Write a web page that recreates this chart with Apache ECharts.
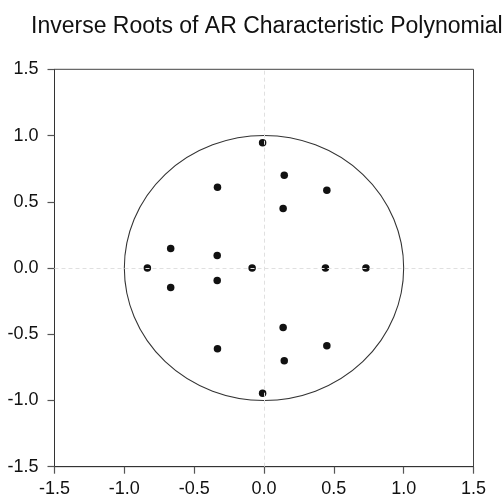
<!DOCTYPE html>
<html>
<head>
<meta charset="utf-8">
<script src="https://cdn.jsdelivr.net/npm/echarts@6/dist/echarts.min.js"></script>
<style>
  html, body { margin: 0; padding: 0; background: #fff; }
  #main { width: 503px; height: 500px; }
</style>
</head>
<body>
<div id="main"></div>
<script>
// inverse roots (real part, imaginary part)
var rootRe = [-0.01, 0.145, 0.45, -0.333, 0.137, -0.668, -0.335, -0.835, -0.085, 0.44, 0.73,
              -0.335, -0.668, 0.137, -0.333, 0.45, 0.145, -0.01];
var rootIm = [0.946, 0.70, 0.587, 0.61, 0.45, 0.147, 0.095, 0, 0, 0, 0,
              -0.095, -0.147, -0.45, -0.61, -0.587, -0.70, -0.946];
// unit circle: centre x, centre y, radius
var unitCircle = [[0, 0, 1]];

var points = rootRe.map(function (re, i) { return [re, rootIm[i]]; });

var chart = echarts.init(document.getElementById("main"));

var labelStyle = {
    color: "#111",
    fontSize: 18,
    fontFamily: "Liberation Sans, Arial, sans-serif",
    formatter: function (v) { return v.toFixed(1); }
};

function makeAxis(margin) {
    return {
        type: "value",
        min: -1.5,
        max: 1.5,
        interval: 0.5,
        axisLine: { show: true, onZero: false, lineStyle: { color: "#333", width: 1 } },
        axisTick: { show: true, inside: false, length: 7, lineStyle: { color: "#555", width: 1.2 } },
        axisLabel: Object.assign({ margin: margin }, labelStyle),
        splitLine: { show: false }
    };
}

var options = {
    animation: false,
    title: {
        text: "Inverse Roots of AR Characteristic Polynomial",
        left: 26,
        top: 10,
        textStyle: {
            fontSize: 23,
            fontWeight: "normal",
            color: "#111",
            fontFamily: "Liberation Sans, Arial, sans-serif"
        }
    },
    grid: {
        left: 54.5,
        right: 29.5,
        top: 69.3,
        bottom: 33.3,
        show: true,
        borderColor: "#444",
        borderWidth: 1
    },
    xAxis: makeAxis(13),
    yAxis: makeAxis(16),
    series: [
        {
            type: "custom",
            silent: true,
            data: unitCircle,
            renderItem: function (params, api) {
                var c = api.coord([api.value(0), api.value(1)]);
                var s = api.size([api.value(2), api.value(2)]);
                return {
                    type: "circle",
                    x: c[0],
                    y: c[1],
                    scaleX: s[0] / s[1],
                    shape: { cx: 0, cy: 0, r: s[1] },
                    style: { fill: "none", stroke: "#333", lineWidth: 1, strokeNoScale: true }
                };
            },
            markLine: {
                silent: true,
                symbol: "none",
                label: { show: false },
                lineStyle: { color: "#e0e0e0", type: [4, 3], width: 1 },
                data: [{ xAxis: 0 }, { yAxis: 0 }]
            },
            z: 1
        },
        {
            type: "scatter",
            data: points,
            symbol: "circle",
            symbolSize: 7.5,
            itemStyle: { color: "#111", borderWidth: 0, opacity: 1 },
            z: 3
        }
    ]
};

chart.setOption(options);
</script>
</body>
</html>
